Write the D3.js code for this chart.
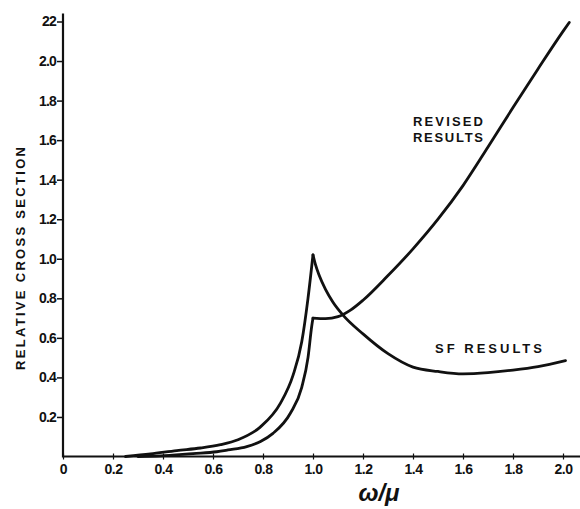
<!DOCTYPE html>
<html>
<head>
<meta charset="utf-8">
<script src="https://cdn.jsdelivr.net/npm/d3@7"></script>
<style>
  body { margin: 0; background: #fff; }
  svg { display: block; }
  text { font-family: "Liberation Sans", Arial, sans-serif; font-weight: bold; fill: #111; }
</style>
</head>
<body>
<svg id="chart" width="580" height="509"></svg>
<script>
'use strict';

// values
const xTicks = [0, 0.2, 0.4, 0.6, 0.8, 1.0, 1.2, 1.4, 1.6, 1.8, 2.0];
const xTickLabels = ['0', '0.2', '0.4', '0.6', '0.8', '1.0', '1.2', '1.4', '1.6', '1.8', '2.0'];
const yTicks = [0.2, 0.4, 0.6, 0.8, 1.0, 1.2, 1.4, 1.6, 1.8, 2.0, 2.2];
const yTickLabels = ['0.2', '0.4', '0.6', '0.8', '1.0', '1.2', '1.4', '1.6', '1.8', '2.0', '22'];

// SF results: rises to a cusp at 1.0 then falls away
const sfX = [0.25, 0.35, 0.455, 0.55, 0.63, 0.7, 0.79, 0.87, 0.92, 0.955, 0.98, 1.0,
             1.01, 1.025, 1.05, 1.08, 1.12, 1.2, 1.3, 1.4, 1.5, 1.6, 1.7, 1.8, 1.9, 2.01];
const sfY = [0, 0.013, 0.03, 0.043, 0.06, 0.085, 0.15, 0.27, 0.41, 0.58, 0.8, 1.02,
             0.97, 0.915, 0.845, 0.78, 0.715, 0.62, 0.52, 0.452, 0.43, 0.418, 0.424, 0.437, 0.455, 0.485];

// Revised results: kink at 1.0, then climbs steadily
const revX = [0.3, 0.39, 0.52, 0.615, 0.66, 0.735, 0.79, 0.84, 0.91, 0.955, 0.98, 0.995, 1.0,
              1.05, 1.1, 1.15, 1.2, 1.3, 1.4, 1.5, 1.6, 1.7, 1.8, 1.9, 2.0, 2.025];
const revY = [0, 0.003, 0.015, 0.024, 0.033, 0.05, 0.076, 0.117, 0.22, 0.35, 0.5, 0.66, 0.70,
              0.697, 0.707, 0.74, 0.79, 0.915, 1.05, 1.2, 1.37, 1.565, 1.765, 1.96, 2.15, 2.195];

const cusp = 1.0;

const svg = d3.select('#chart');
const x = d3.scaleLinear().domain([0, 2.07]).range([63, 580.5]);
const y = d3.scaleLinear().domain([0, 2.2]).range([456.5, 21.5]);

// axes
svg.append('line')
    .attr('x1', x(0)).attr('x2', x(0))
    .attr('y1', y(0) + 1).attr('y2', y(2.24))
    .attr('stroke', '#111').attr('stroke-width', 2.2);
svg.append('line')
    .attr('x1', x(0)).attr('x2', 580)
    .attr('y1', y(0)).attr('y2', y(0))
    .attr('stroke', '#111').attr('stroke-width', 1.8);

const yAxis = svg.append('g')
    .attr('transform', `translate(${x(0)},0)`)
    .call(d3.axisLeft(y).tickValues(yTicks).tickSize(6).tickPadding(1)
        .tickFormat((d, i) => yTickLabels[i]));
yAxis.select('.domain').remove();
yAxis.selectAll('line').attr('stroke', '#111').attr('stroke-width', 1.5);
yAxis.selectAll('text').attr('font-size', 14).attr('font-family', '"Liberation Sans", Arial, sans-serif')
    .attr('font-weight', 'bold').attr('fill', '#111').attr('letter-spacing', -0.8);

const xAxis = svg.append('g')
    .attr('transform', `translate(0,${y(0)})`)
    .call(d3.axisBottom(x).tickValues(xTicks).tickSize(3).tickPadding(5)
        .tickFormat((d, i) => xTickLabels[i]));
xAxis.select('.domain').remove();
xAxis.selectAll('line').attr('stroke', '#111').attr('stroke-width', 1.2).attr('y1', -3);
xAxis.selectAll('text').attr('font-size', 14).attr('font-family', '"Liberation Sans", Arial, sans-serif')
    .attr('font-weight', 'bold').attr('fill', '#111').attr('letter-spacing', -0.4);

// curves, drawn as two branches each so the cusp stays sharp
const line = d3.line()
    .x(d => x(d[0]))
    .y(d => y(d[1]))
    .curve(d3.curveMonotoneX);

function drawSeries(xs, ys) {
    const pts = xs.map((v, i) => [v, ys[i]]);
    const left = pts.filter(p => p[0] <= cusp);
    const right = pts.filter(p => p[0] >= cusp);
    [left, right].forEach(seg => {
        svg.append('path')
            .attr('d', line(seg))
            .attr('fill', 'none')
            .attr('stroke', '#111')
            .attr('stroke-width', 2.8)
            .attr('stroke-linecap', 'round')
            .attr('stroke-linejoin', 'round');
    });
}
drawSeries(sfX, sfY);
drawSeries(revX, revY);

// labels
function label(txt, cx, cy, w, size) {
    svg.append('text')
        .attr('x', cx).attr('y', cy)
        .attr('text-anchor', 'middle')
        .attr('dominant-baseline', 'central')
        .attr('font-size', size)
        .attr('textLength', w)
        .attr('lengthAdjust', 'spacing')
        .text(txt);
}
label('REVISED', 448, 121.5, 70, 13);
label('RESULTS', 448, 137.5, 70, 13);
label('SF RESULTS', 488.5, 348, 107, 13);

svg.append('text')
    .attr('transform', 'translate(20,258.5) rotate(-90)')
    .attr('text-anchor', 'middle')
    .attr('dominant-baseline', 'central')
    .attr('font-size', 13)
    .attr('textLength', 223)
    .attr('lengthAdjust', 'spacing')
    .text('RELATIVE CROSS SECTION');

svg.append('text')
    .attr('x', 379).attr('y', 501)
    .attr('text-anchor', 'middle')
    .attr('font-size', 24)
    .attr('font-style', 'italic')
    .attr('font-weight', 'normal')
    .attr('font-family', '"DejaVu Serif", serif')
    .text('ω/μ');
</script>
</body>
</html>
